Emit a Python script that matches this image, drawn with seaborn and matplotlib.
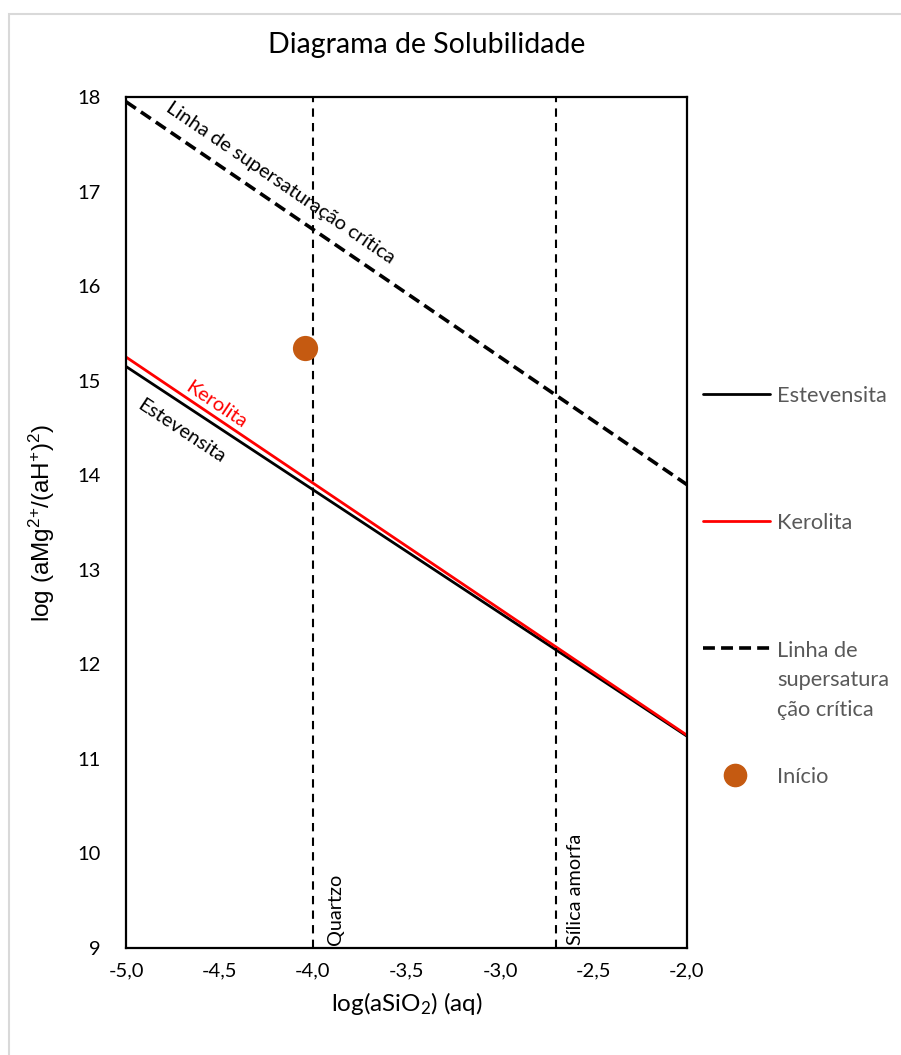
import numpy as np
import pandas as pd
import matplotlib
matplotlib.use("Agg")
import matplotlib.pyplot as plt
from matplotlib.lines import Line2D
from matplotlib.patches import Rectangle
import seaborn as sns

# Stability lines: log(aMg2+/(aH+)^2) at the ends of the log(aSiO2) range
x_range = [-5.0, -2.0]
estevensita = [15.15, 11.24]
kerolita = [15.25, 11.25]
supersaturacao = [17.95, 13.90]

# Silica saturation limits
quartzo_x = -4.0
silica_amorfa_x = -2.70

# Starting composition
inicio_x = [-4.04]
inicio_y = [15.34]

x_ticks = [-5.0, -4.5, -4.0, -3.5, -3.0, -2.5, -2.0]
y_ticks = list(range(9, 19))

sns.set_theme(style="white")
plt.rcParams["font.family"] = ["Lato", "DejaVu Sans"]
plt.rcParams["mathtext.default"] = "regular"
plt.rcParams["text.color"] = "black"
plt.rcParams["axes.labelcolor"] = "black"

W, H = 901, 1055
fig = plt.figure(figsize=(W / 100, H / 100), dpi=100)
ax = fig.add_axes([126 / W, 1 - 948 / H, (687 - 126) / W, (948 - 97) / H])

# outer chart border
fig.patches.append(Rectangle((9 / W, -0.2), 1.5, 1 - 14 / H + 0.2,
                             transform=fig.transFigure, fill=False,
                             ec="#d9d9d9", lw=1.5))

df = pd.DataFrame({"x": x_range, "est": estevensita, "ker": kerolita,
                   "sup": supersaturacao})

sns.lineplot(data=df, x="x", y="est", color="black", lw=2.0, ax=ax)
sns.lineplot(data=df, x="x", y="ker", color="#ff0000", lw=2.0, ax=ax)
sns.lineplot(data=df, x="x", y="sup", color="black", lw=2.6,
             linestyle=(0, (3.3, 1.7)), ax=ax)

ax.axvline(quartzo_x, color="black", lw=1.5, linestyle=(0, (4, 3)))
ax.axvline(silica_amorfa_x, color="black", lw=1.5, linestyle=(0, (4, 3)))

sns.scatterplot(x=inicio_x, y=inicio_y, color="#C55A11", s=330,
                edgecolor="none", ax=ax, zorder=5)

ax.set_xlim(-5, -2)
ax.set_ylim(9, 18)
ax.set_xticks(x_ticks)
ax.set_xticklabels([f"{v:.1f}".replace(".", ",") for v in x_ticks])
ax.set_yticks(y_ticks)
ax.set_yticklabels([str(v) for v in y_ticks])
ax.tick_params(axis="both", length=0, labelsize=14.5, colors="black")
ax.tick_params(axis="x", pad=10)
ax.tick_params(axis="y", pad=18)
for s in ax.spines.values():
    s.set_color("black")
    s.set_linewidth(1.6)

ax.set_xlabel("log(aSiO$_2$) (aq)", fontsize=17.5, labelpad=8,
              color="black")
ax.set_ylabel("log (aMg$^{2{+}}$/(aH$^{+}$)$^{2}$)", fontsize=17.5,
              labelpad=15, color="black",
              family=["Liberation Sans", "DejaVu Sans"])

fig.text(427 / W, 1 - 45 / H, "Diagrama de Solubilidade", fontsize=20.5,
         ha="center", va="center", color="black")


def angle_of(ys):
    p0 = ax.transData.transform((x_range[0], ys[0]))
    p1 = ax.transData.transform((x_range[1], ys[1]))
    return np.degrees(np.arctan2(p1[1] - p0[1], p1[0] - p0[0]))


ax.text(-4.176, 17.09, "Linha de supersaturação crítica", fontsize=14.5,
        rotation=angle_of(supersaturacao), rotation_mode="anchor",
        ha="center", va="center", color="black")
ax.text(-4.52, 14.74, "Kerolita", fontsize=14.5, color="#ff0000",
        rotation=angle_of(kerolita), rotation_mode="anchor",
        ha="center", va="center")
ax.text(-4.706, 14.47, "Estevensita", fontsize=14.5, color="black",
        rotation=angle_of(estevensita), rotation_mode="anchor",
        ha="center", va="center")
ax.text(-3.882, 9.03, "Quartzo", fontsize=14.3, rotation=90,
        ha="center", va="bottom", color="black")
ax.text(-2.594, 9.03, "Sílica amorfa", fontsize=14.3, rotation=90,
        ha="center", va="bottom", color="black")

# legend on the right
lg_color = "#595959"
lg_size = 15.7
row_gap = 30  # pixel distance between wrapped label lines
entries = [
    (394, dict(color="black", lw=2.0, linestyle="-"), "Estevensita"),
    (521, dict(color="#ff0000", lw=2.0, linestyle="-"), "Kerolita"),
    (648, dict(color="black", lw=2.6, linestyle=(0, (3.3, 1.7))),
     "Linha de\nsupersatura\nção crítica"),
    (775, dict(color="#C55A11", lw=0, marker="o", markersize=16), "Início"),
]
for yp, style, label in entries:
    fy = 1 - yp / H
    if style.get("marker"):
        fig.add_artist(Line2D([735 / W], [fy], transform=fig.transFigure,
                              **style))
    else:
        fig.add_artist(Line2D([703 / W, 770 / W], [fy, fy],
                              transform=fig.transFigure, **style))
    n_extra = label.count("\n")
    fig.text(777 / W, fy - (8 + n_extra * row_gap) / H, label,
             fontsize=lg_size, color=lg_color, ha="left", va="baseline",
             linespacing=1.6)

fig.savefig("out.png", dpi=100)
